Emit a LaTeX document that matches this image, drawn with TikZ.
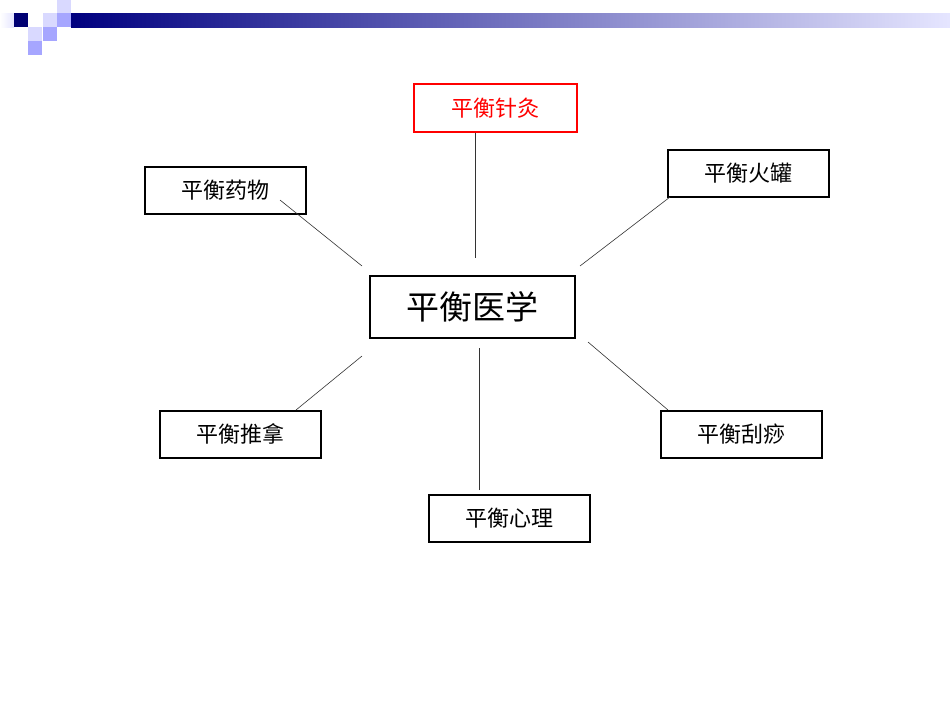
\documentclass[tikz,border=0pt]{standalone}
\usepackage{fontspec}
\newfontfamily\cjk{Noto Sans CJK SC}
\begin{document}
\begin{tikzpicture}[x=1pt,y=-1pt,
 box/.style={draw=black,line width=1.6pt,minimum width=161pt,minimum height=47pt,anchor=north west,inner sep=0pt,font=\cjk\fontsize{22}{24}\selectfont},
 link/.style={draw=black!80,line width=0.6pt}]
\useasboundingbox (0,0) rectangle (950,713);
\fill[white] (0,0) rectangle (950,713);
% header
\shade[left color=white,right color=white!90!blue] (0,13) rectangle (14,27);
\fill[blue!45!black] (14,13) rectangle (28,27);
\fill[blue!15!white] (43,13) rectangle (57,27);
\fill[blue!15!white] (57,0) rectangle (71,13);
\fill[blue!35!white] (57,13) rectangle (71,27);
\fill[blue!15!white] (28,27) rectangle (42,41);
\fill[blue!35!white] (43,27) rectangle (57,41);
\fill[blue!35!white] (28,41) rectangle (42,55);
\shade[left color=blue!50!black,right color=blue!10!white] (71,13) rectangle (950,27);
% boxes
\node[box,draw=red,text=red,minimum width=163pt,minimum height=48pt] (zj) at (413,83) {平衡针灸};
\node[box] (yw) at (144,166) {平衡药物};
\node[box] (hg) at (667,149) {平衡火罐};
\node[box,minimum width=205pt,minimum height=62pt,font=\cjk\fontsize{33}{36}\selectfont] (yx) at (369,275) {平衡医学};
\node[box] (tn) at (159,410) {平衡推拿};
\node[box] (gs) at (660,410) {平衡刮痧};
\node[box] (xl) at (428,494) {平衡心理};
% connector ends
\coordinate (a1) at (475,258);
\coordinate (b0) at (280,200); \coordinate (b1) at (362,266);
\coordinate (c0) at (670,197); \coordinate (c1) at (580,266);
\coordinate (d0) at (296,410); \coordinate (d1) at (362,356);
\coordinate (e0) at (668,410); \coordinate (e1) at (588,342);
\coordinate (f0) at (479,490); \coordinate (f1) at (479,348);
\draw[link] (zj.south -| a1) -- (a1);
\draw[link] (b0) -- (b1);
\draw[link] (c0) -- (c1);
\draw[link] (d0) -- (d1);
\draw[link] (e0) -- (e1);
\draw[link] (f0) -- (f1);
\end{tikzpicture}
\end{document}
